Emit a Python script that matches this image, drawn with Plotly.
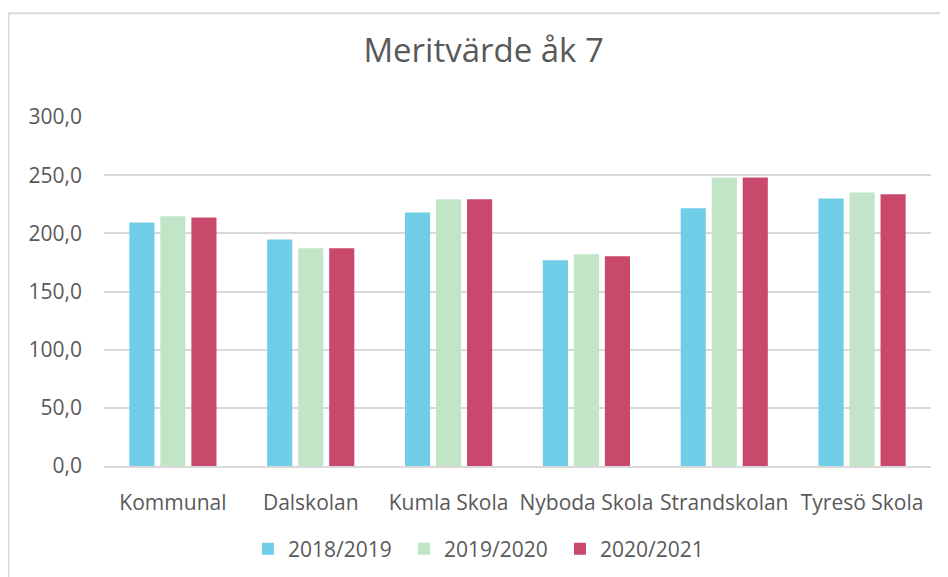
import plotly.graph_objects as go

categories = ["Kommunal", "Dalskolan", "Kumla Skola", "Nyboda Skola", "Strandskolan", "Tyresö Skola"]
series_names = ["2018/2019", "2019/2020", "2020/2021"]
v_2018 = [209.4, 194.8, 218.0, 176.8, 221.5, 230.0]
v_2019 = [214.6, 187.1, 229.2, 182.0, 248.1, 235.2]
v_2020 = [213.7, 187.1, 229.2, 180.2, 248.1, 233.6]
colors = ["#70CDE8", "#C2E4C7", "#C8496C"]
y_ticks = [0, 50, 100, 150, 200, 250, 300]

FONT = "Open Sans"
TXT = "#595959"

fig = go.Figure()
for name, vals, col in zip(series_names, [v_2018, v_2019, v_2020], colors):
    fig.add_trace(go.Bar(x=categories, y=vals, name=name, marker=dict(color=col, line=dict(width=0))))

fig.update_layout(
    width=940, height=569,
    margin=dict(l=96, r=17, t=109, b=111, autoexpand=False),
    paper_bgcolor="white", plot_bgcolor="white",
    barmode="group", bargap=0.325, bargroupgap=0.19,
    separators=", ",
    title=dict(text="Meritvärde åk 7", x=0.506, xanchor="center", y=0.926, yanchor="middle",
               font=dict(family=FONT, size=33, color=TXT)),
    font=dict(family=FONT, color=TXT),
    legend=dict(orientation="h", x=0.457, xanchor="center", y=-0.238, yanchor="middle",
                font=dict(family=FONT, size=21, color=TXT), itemwidth=30,
                entrywidth=111, entrywidthmode="pixels",
                traceorder="normal", itemclick=False),
    showlegend=True,
    shapes=[dict(type="rect", xref="paper", yref="paper", x0=-0.1155, x1=1.05, y0=-0.45, y1=1.297,
                 line=dict(color="#D9D9D9", width=2), fillcolor="rgba(0,0,0,0)", layer="below")],
)
fig.update_yaxes(range=[0, 300], tickvals=y_ticks, tickformat=".1f", showgrid=True,
                 gridcolor="#D9D9D9", gridwidth=2, zeroline=False, showline=False, automargin=False,
                 tickfont=dict(family=FONT, size=21, color=TXT), ticklabelstandoff=21)
fig.update_xaxes(showline=True, linecolor="#D9D9D9", linewidth=2, ticks="", automargin=False,
                 tickfont=dict(family=FONT, size=21, color=TXT), ticklabelstandoff=17)

fig.write_html("out.html")
